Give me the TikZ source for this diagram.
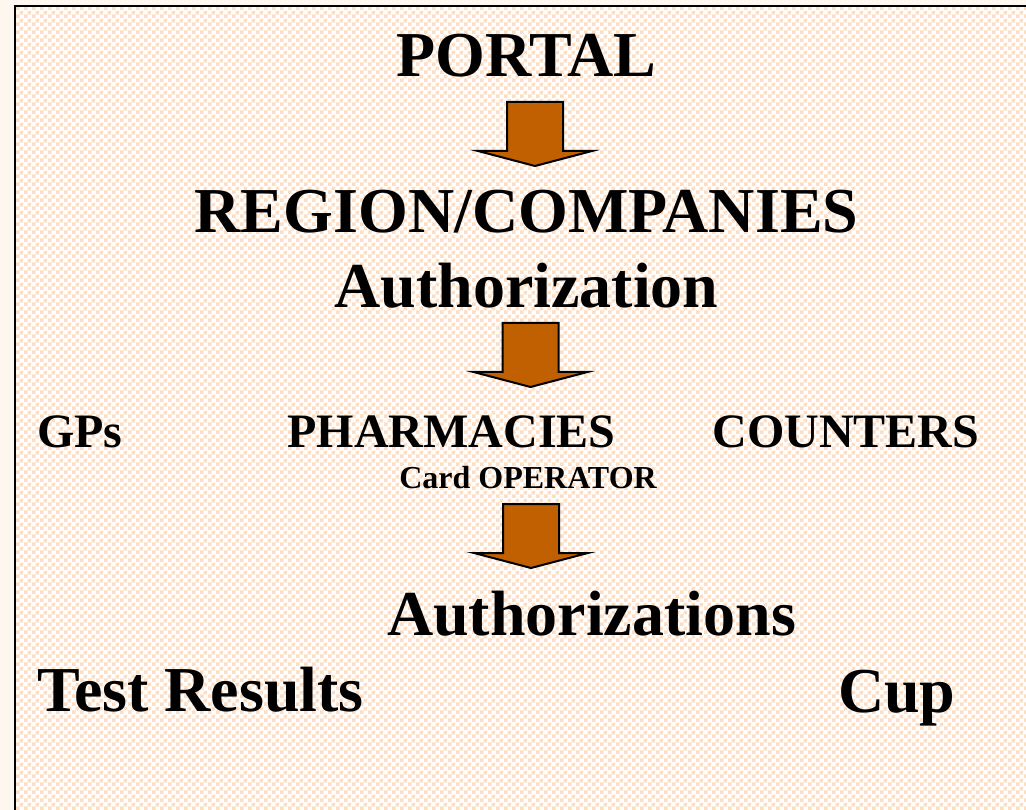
\documentclass[tikz,border=0pt]{standalone}
\usepackage{fontspec}
\setmainfont{Liberation Serif}
\usepackage{tikz}
\usetikzlibrary{patterns}

\definecolor{cream}{RGB}{253,247,240}
\definecolor{peach}{RGB}{255,221,192}
\definecolor{rust}{RGB}{192,96,0}

\pgfdeclarepatternformonly{peachcheck}{\pgfpointorigin}{\pgfqpoint{8pt}{8pt}}{\pgfqpoint{8pt}{8pt}}{%
  \pgfpathrectangle{\pgfpointorigin}{\pgfqpoint{4pt}{4pt}}%
  \pgfpathrectangle{\pgfqpoint{4pt}{4pt}}{\pgfqpoint{4pt}{4pt}}%
  \pgfusepath{fill}}

\tikzset{
  bigtxt/.style={font=\fontsize{64}{70}\selectfont\bfseries,inner sep=0pt,anchor=base},
  midtxt/.style={font=\fontsize{48}{54}\selectfont\bfseries,inner sep=0pt,anchor=base},
  smalltxt/.style={font=\fontsize{32}{36}\selectfont\bfseries,inner sep=0pt,anchor=base},
  downarr/.pic={
    \filldraw[fill=rust,draw=black,line width=2pt,line join=miter]
      (-28,0) -- (28,0) -- (28,49) -- (57,49) -- (0,64) -- (-57,49) -- (-28,49) -- cycle;
  }
}

\begin{document}
\begin{tikzpicture}[x=1pt,y=-1pt]
\useasboundingbox (0,0) rectangle (1026,810);
% background
\fill[cream] (0,0) rectangle (1026,810);
\fill[white] (15,6) rectangle (1026,810);
\fill[pattern=peachcheck,pattern color=peach] (15,6) rectangle (1026,810);
\draw[line width=2.5pt] (15,810) -- (15,6) -- (1026,6);

% top
\node[bigtxt] (portal) at (526.5,77) {PORTAL};
\pic (arrA) at (535,102) {downarr};
\node[bigtxt] (region) at (526.5,233) {REGION/COMPANIES};
\node[bigtxt] (auth) at (526.5,308) {Authorization};
\pic (arrB) at (530.5,323) {downarr};

% middle row
\node[midtxt,anchor=base west] (gps) at (37,447) {GPs};
\node[midtxt] (pharm) at (451.5,447) {PHARMACIES};
\node[midtxt] (count) at (846,447) {COUNTERS};
\node[smalltxt] (card) at (528,488) {Card OPERATOR};
\pic (arrC) at (531,504) {downarr};

% bottom
\node[bigtxt] (auths) at (591.5,635) {Authorizations};
\node[bigtxt,anchor=base west] (test) at (37,711) {Test Results};
\node[bigtxt,anchor=base west] (cup) at (838,712) {Cup};
\end{tikzpicture}
\end{document}
